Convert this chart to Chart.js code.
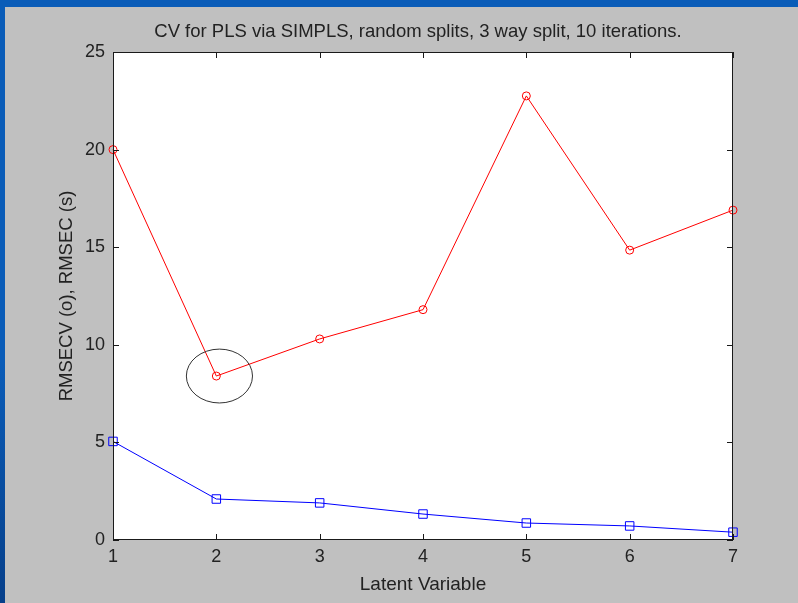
<!DOCTYPE html>
<html>
<head>
<meta charset="utf-8">
<script src="https://cdn.jsdelivr.net/npm/chart.js@4/dist/chart.umd.min.js"></script>
<style>
  html, body { margin: 0; padding: 0; }
  body { width: 798px; height: 603px; overflow: hidden; background: linear-gradient(180deg, #0a5cb8 0%, #0a5cb8 60%, #063f8a 100%); }
  #wrap { position: absolute; left: 5px; top: 7px; width: 793px; height: 596px; background: #c0c0c0; }
</style>
</head>
<body>
<div id="wrap"><canvas id="cvChart" width="793" height="596"></canvas></div>
<script>
// latent variables and errors
const latentVars = [1, 2, 3, 4, 5, 6, 7];
const rmsecv = [20.0, 8.4, 10.3, 11.8, 22.75, 14.85, 16.9];
const rmsec = [5.05, 2.1, 1.9, 1.33, 0.87, 0.72, 0.4];
const xTicks = [1, 2, 3, 4, 5, 6, 7];
const yTicks = [0, 5, 10, 15, 20, 25];
const chartTitle = 'CV for PLS via SIMPLS, random splits, 3 way split, 10 iterations.';
// hand drawn ring around the minimum (data units)
const ringCenter = [2.03, 8.4];
const ringRadius = [0.32, 1.38];

const font = 'Liberation Sans, Arial, sans-serif';

// matlab-ish box with inward ticks, the title and the ellipse
const boxPlugin = {
  id: 'boxPlugin',
  beforeDraw(chart) {
    const a = chart.chartArea;
    const ctx = chart.ctx;
    ctx.save();
    ctx.fillStyle = '#ffffff';
    ctx.fillRect(a.left, a.top, a.right - a.left, a.bottom - a.top);
    ctx.fillStyle = '#222222';
    ctx.font = '18.5px ' + font;
    ctx.textAlign = 'center';
    ctx.textBaseline = 'middle';
    ctx.fillText(chartTitle, (a.left + a.right) / 2 - 5, 25);
    ctx.restore();
  },
  afterDraw(chart) {
    const a = chart.chartArea;
    const ctx = chart.ctx;
    const xs = chart.scales.x, ys = chart.scales.y;
    ctx.save();
    ctx.strokeStyle = '#1a1a1a';
    ctx.lineWidth = 1;
    ctx.strokeRect(a.left + 0.5, a.top + 0.5, a.right - a.left - 1, a.bottom - a.top - 1);
    ctx.beginPath();
    xTicks.forEach(function (v) {
      const px = Math.round(xs.getPixelForValue(v)) + 0.5;
      ctx.moveTo(px, a.bottom); ctx.lineTo(px, a.bottom - 6);
      ctx.moveTo(px, a.top); ctx.lineTo(px, a.top + 6);
    });
    yTicks.forEach(function (v) {
      const py = Math.round(ys.getPixelForValue(v)) + 0.5;
      ctx.moveTo(a.left, py); ctx.lineTo(a.left + 6, py);
      ctx.moveTo(a.right, py); ctx.lineTo(a.right - 6, py);
    });
    ctx.stroke();

    const cx = xs.getPixelForValue(ringCenter[0]);
    const cy = ys.getPixelForValue(ringCenter[1]);
    const rx = Math.abs(xs.getPixelForValue(ringCenter[0] + ringRadius[0]) - cx);
    const ry = Math.abs(ys.getPixelForValue(ringCenter[1] + ringRadius[1]) - cy);
    ctx.beginPath();
    ctx.ellipse(cx, cy, rx, ry, 0, 0, Math.PI * 2);
    ctx.strokeStyle = '#333333';
    ctx.stroke();
    ctx.restore();
  }
};

var ctx = document.getElementById('cvChart').getContext('2d');
var cvChart = new Chart(ctx, {
  type: 'line',
  data: {
    datasets: [{
      label: 'RMSECV',
      data: latentVars.map(function (x, i) { return { x: x, y: rmsecv[i] }; }),
      borderColor: '#ff0000',
      backgroundColor: 'rgba(0,0,0,0)',
      borderWidth: 1,
      pointStyle: 'circle',
      pointRadius: 4,
      pointBorderWidth: 1,
      pointBorderColor: '#ff0000',
      fill: false,
      tension: 0
    }, {
      label: 'RMSEC',
      data: latentVars.map(function (x, i) { return { x: x, y: rmsec[i] }; }),
      borderColor: '#0000ff',
      backgroundColor: 'rgba(0,0,0,0)',
      borderWidth: 1,
      pointStyle: 'rect',
      pointRadius: 6,
      pointBorderWidth: 1,
      pointBorderColor: '#0000ff',
      fill: false,
      tension: 0
    }]
  },
  options: {
    responsive: false,
    animation: false,
    clip: false,
    layout: { padding: { left: 0, top: 45, right: 65, bottom: 0 } },
    plugins: {
      legend: { display: false },
      tooltip: { enabled: false },
      title: { display: false }
    },
    scales: {
      x: {
        type: 'linear',
        min: 1,
        max: 7,
        afterFit: function (s) { s.height = 63; },
        afterBuildTicks: function (s) { s.ticks = xTicks.map(function (v) { return { value: v }; }); },
        grid: { display: false, drawTicks: false },
        border: { display: false },
        ticks: { color: '#222222', padding: 6, font: { family: font, size: 18 } },
        title: {
          display: true,
          text: 'Latent Variable',
          color: '#222222',
          font: { family: font, size: 19 },
          padding: { top: 0, bottom: 7 }
        }
      },
      y: {
        min: 0,
        max: 25,
        afterFit: function (s) { s.width = 108; },
        afterBuildTicks: function (s) { s.ticks = yTicks.map(function (v) { return { value: v }; }); },
        grid: { display: false, drawTicks: false },
        border: { display: false },
        ticks: { color: '#222222', padding: 8, font: { family: font, size: 18 } },
        title: {
          display: true,
          text: 'RMSECV (o), RMSEC (s)',
          color: '#222222',
          font: { family: font, size: 18.5 },
          padding: { top: 51, bottom: 0 }
        }
      }
    }
  },
  plugins: [boxPlugin]
});
</script>
</body>
</html>
